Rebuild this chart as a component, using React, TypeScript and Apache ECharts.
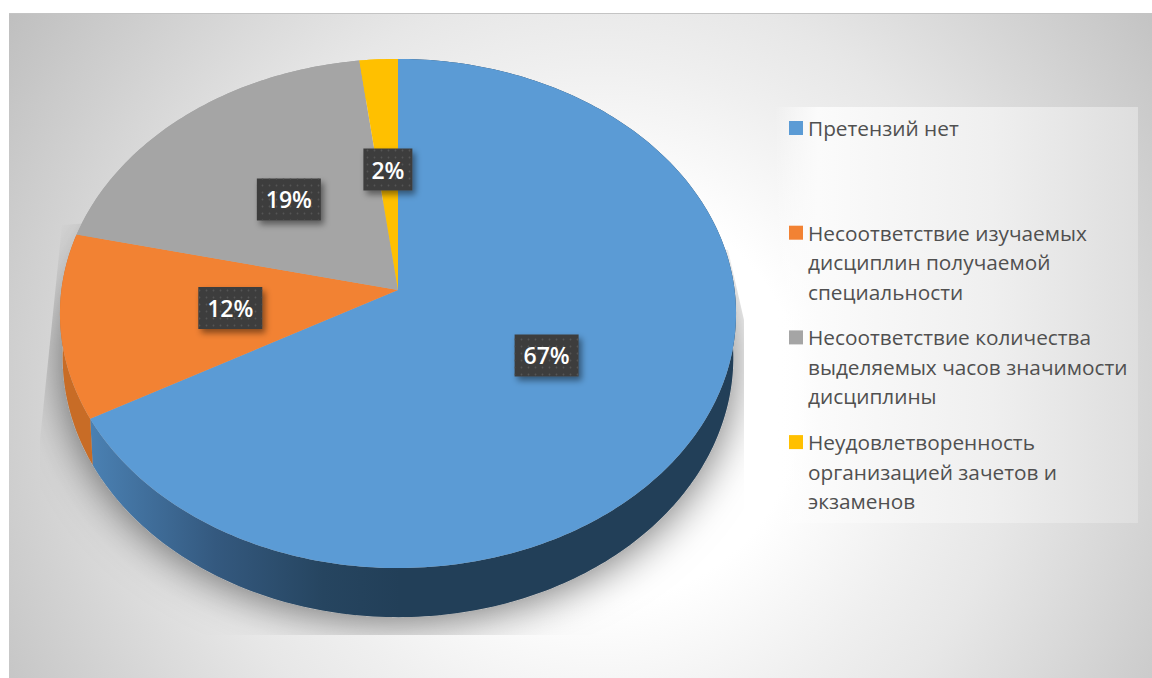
import React, { useEffect, useRef } from "react";
import * as echarts from "echarts";

const categories = [
  "Претензий нет",
  "Несоответствие изучаемых\nдисциплин получаемой\nспециальности",
  "Несоответствие количества\nвыделяемых часов значимости\nдисциплины",
  "Неудовлетворенность\nорганизацией зачетов и\nэкзаменов",
];
const values = [66.9, 11.7, 19.4, 2.0];
const colors = ["#5b9bd5", "#f28233", "#a5a5a5", "#ffc000"];

const total = values.reduce((a, b) => a + b, 0);
const apexX = 398;
const apexY = 290;
const scaleX = 336.6;
const scaleY = 252.4;
const persp = 0.0923;
const ellipseCy = 313.5;

function project(th: number, r: number) {
  const u = Math.sin(th) * r;
  const v = Math.cos(th) * r;
  const w = 1 + persp * v;
  return [apexX + (scaleX * u) / w, apexY - (scaleY * v) / w];
}
function lower(p: number[]) {
  return [apexX + (p[0] - apexX) * 0.992, (p[1] - ellipseCy) * 1.02 + 357.5];
}
function range(i: number) {
  let s = 0;
  for (let k = 0; k < i; k++) s += values[k];
  return [(s / total) * Math.PI * 2, ((s + values[i]) / total) * Math.PI * 2];
}
function arc(a: number, b: number) {
  const n = Math.max(2, Math.ceil(((b - a) * 180) / Math.PI));
  const pts: number[][] = [];
  for (let i = 0; i <= n; i++) pts.push(project(a + ((b - a) * i) / n, 1));
  return pts;
}

const dots =
  "data:image/svg+xml;utf8," +
  encodeURIComponent(
    "<svg xmlns='http://www.w3.org/2000/svg' width='7' height='7'><circle cx='3.5' cy='3.5' r='0.9' fill='#555555'/></svg>"
  );

const shared = {
  type: "custom" as const,
  coordinateSystem: "none",
  silent: true,
  animation: false,
  data: values.map((v, i) => [v, i]),
};

export default function App() {
  const ref = useRef<HTMLDivElement>(null);
  useEffect(() => {
    if (!ref.current) return;
    const chart = echarts.init(ref.current, undefined, { renderer: "svg" });
    chart.setOption({
      animation: false,
      backgroundColor: "#ffffff",
      graphic: [
        {
          type: "rect",
          z: -10,
          shape: { x: 9, y: 13, width: 1143, height: 665 },
          style: {
            fill: {
              type: "radial",
              x: 600,
              y: 400,
              r: 720,
              global: true,
              colorStops: [
                { offset: 0, color: "#ffffff" },
                { offset: 0.28, color: "#ffffff" },
                { offset: 0.47, color: "#efefef" },
                { offset: 0.58, color: "#e7e7e7" },
                { offset: 0.78, color: "#d3d3d3" },
                { offset: 0.97, color: "#c0c0c0" },
                { offset: 1, color: "#bebebe" },
              ],
            },
          },
        },
        {
          type: "rect",
          z: -9,
          shape: { x: 9, y: 13, width: 1143, height: 1 },
          style: { fill: "#c4c4c4" },
        },
        {
          type: "rect",
          z: -9,
          shape: { x: 775, y: 107, width: 363, height: 416 },
          style: {
            fill: {
              type: "linear",
              x: 0,
              y: 0,
              x2: 1,
              y2: 0,
              colorStops: [
                { offset: 0, color: "rgba(255,255,255,0)" },
                { offset: 0.12, color: "#fbfbfb" },
                { offset: 0.6, color: "#efefef" },
                { offset: 1, color: "#dedede" },
              ],
            },
          },
        },
      ],
      series: [
        {
          ...shared,
          name: "shadow",
          z: 2,
          renderItem: (_p: any, api: any) => {
            if (api.value(1) !== 0) return { type: "group", children: [] };
            const pts = arc(0, Math.PI * 2).map(lower);
            return {
              type: "polygon",
              shape: { points: pts },
              style: {
                fill: "#b0b0b0",
                shadowColor: "rgba(0,0,0,0.55)",
                shadowBlur: 44,
                shadowOffsetY: 4,
              },
              clipPath: {
                type: "polygon",
                shape: {
                  points: [
                    [62, 225],
                    [40, 440],
                    [40, 635],
                    [744, 635],
                    [744, 320],
                    [728, 250],
                    [400, 200],
                  ],
                },
              },
            };
          },
        },
        {
          ...shared,
          name: "walls",
          z: 3,
          renderItem: (_p: any, api: any) => {
            const i = api.value(1);
            const [a, b] = range(i);
            const top = arc(a, b);
            const bottom = top.map(lower).reverse();
            const fill =
              i === 0
                ? {
                    type: "linear",
                    global: true,
                    x: 92,
                    y: 0,
                    x2: 400,
                    y2: 0,
                    colorStops: [
                      { offset: 0, color: "#4a80b2" },
                      { offset: 0.4, color: "#34597f" },
                      { offset: 0.75, color: "#264560" },
                      { offset: 1, color: "#223f58" },
                    ],
                  }
                : i === 1
                ? "#c86c26"
                : colors[i];
            return {
              type: "polygon",
              shape: { points: top.concat(bottom) },
              style: { fill },
            };
          },
        },
        {
          ...shared,
          name: "slices",
          z: 4,
          renderItem: (_p: any, api: any) => {
            const i = api.value(1);
            const [a, b] = range(i);
            return {
              type: "polygon",
              shape: { points: [[apexX, apexY], ...arc(a, b)] },
              style: { fill: colors[i] },
            };
          },
        },
        {
          ...shared,
          name: "labels",
          z: 5,
          renderItem: (_p: any, api: any) => {
            const i = api.value(1);
            const [a, b] = range(i);
            const [cx, cy] = project((a + b) / 2, 0.5);
            const text = Math.round((api.value(0) / total) * 100) + "%";
            const w = 15 * text.length + 19;
            const h = 42;
            const box = { x: cx - w / 2, y: cy - h / 2, width: w, height: h };
            return {
              type: "group",
              children: [
                {
                  type: "rect",
                  shape: box,
                  style: {
                    fill: "#3e3e3e",
                    shadowColor: "rgba(0,0,0,0.45)",
                    shadowBlur: 6,
                    shadowOffsetX: 3,
                    shadowOffsetY: 4,
                  },
                },
                {
                  type: "rect",
                  shape: box,
                  style: {
                    fill: {
                      image: dots,
                      repeat: "repeat",
                      imageWidth: 7,
                      imageHeight: 7,
                    },
                  },
                },
                {
                  type: "text",
                  x: cx,
                  y: cy,
                  style: {
                    text,
                    fill: "#ffffff",
                    font: '600 23px "Open Sans"',
                    align: "center",
                    verticalAlign: "middle",
                  },
                },
              ],
            };
          },
        },
        {
          ...shared,
          name: "legend",
          z: 5,
          renderItem: (_p: any, api: any) => {
            const i = api.value(1);
            const y = 128 + 104.7 * i;
            return {
              type: "group",
              children: [
                {
                  type: "rect",
                  shape: { x: 789, y: y - 7, width: 14, height: 14 },
                  style: { fill: colors[i] },
                },
                {
                  type: "text",
                  x: 808,
                  y: y - 14.75,
                  style: {
                    text: categories[i],
                    fill: "#505050",
                    font: '20.8px "Open Sans"',
                    lineHeight: 29.5,
                    align: "left",
                    verticalAlign: "top",
                  },
                },
              ],
            };
          },
        },
      ],
    });
    return () => chart.dispose();
  }, []);
  return (
    <div
      ref={ref}
      style={{ position: "absolute", left: 0, top: 0, width: 1152, height: 678 }}
    />
  );
}
